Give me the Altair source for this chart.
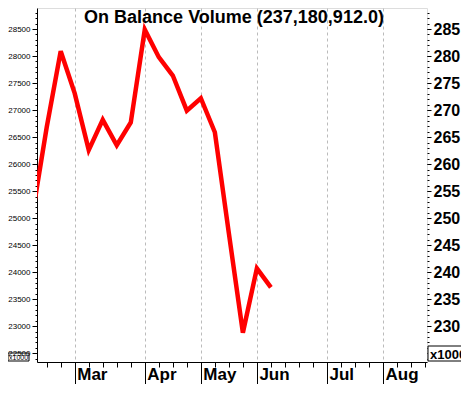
import altair as alt
import pandas as pd

# ---- data ----
week = list(range(-1, 17))
obv = [250.9, 266.8, 280.9, 273.1, 262.6, 268.2, 263.5, 267.7, 284.9,
       279.8, 276.4, 269.9, 272.2, 265.9, 247.2, 228.8, 240.7, 237.18]
months = ["Mar", "Apr", "May", "Jun", "Jul", "Aug"]
month_week = [2, 7, 11, 15, 20, 24]
week_ticks = list(range(0, 28))
left_major = list(range(225, 290, 5))
right_major = list(range(230, 290, 5))
minor_vals = list(range(224, 289))
title_text = "On Balance Volume (237,180,912.0)"
unit_label = "x1000"

df = pd.DataFrame({"week": week, "obv": obv})
one = pd.DataFrame({"t": [unit_label]})
ttl = pd.DataFrame({"t": [title_text]})

FONT = "Liberation Sans"
W, H = 390, 354
xs = alt.Scale(domain=[-0.692, 27.14], nice=False, zero=False)
ys = alt.Scale(domain=[223.37, 288.9], nice=False, zero=False)

month_expr = "{}[indexof({}, datum.value)]".format(
    "[" + ",".join("'%s'" % m for m in months) + "]",
    "[" + ",".join(str(w) for w in month_week) + "]")

base = alt.Chart(df)

l1 = base.mark_line(opacity=0).encode(
    x=alt.X("week:Q", scale=xs, axis=alt.Axis(
        orient="bottom", values=week_ticks, labels=False, tickSize=5,
        domain=True, domainColor="black", tickColor="black", grid=False, title=None)),
    y=alt.Y("obv:Q", scale=ys, axis=alt.Axis(
        orient="left", values=minor_vals, labels=False, tickSize=2,
        domain=True, domainColor="black", tickColor="black", grid=False, title=None)),
)

l2 = base.mark_line(opacity=0).encode(
    x=alt.X("week:Q", scale=xs, axis=alt.Axis(
        orient="bottom", values=month_week, labels=False, tickSize=22,
        domain=False, tickColor="black", grid=True, gridDash=[3, 3],
        gridColor="#bbbbbb", gridWidth=1, title=None)),
    y=alt.Y("obv:Q", scale=ys, axis=alt.Axis(
        orient="left", values=left_major, labelExpr="datum.value*100",
        tickSize=5, labelPadding=2, labelFontSize=8, labelFont=FONT,
        labelColor="black", domain=False, tickColor="black", grid=False,
        labelOverlap=False, labelFlush=False, title=None)),
)

l3 = base.mark_line(opacity=0).encode(
    x=alt.X("week:Q", scale=xs, axis=alt.Axis(
        orient="bottom", values=month_week, ticks=False, domain=False,
        labelExpr=month_expr, labelAlign="left", labelOffset=2,
        labelBaseline="top", labelPadding=4, labelFontSize=17,
        labelFontWeight="bold", labelFont=FONT, labelColor="black",
        labelOverlap=False, labelFlush=False, grid=False, title=None)),
    y=alt.Y("obv:Q", scale=ys, axis=alt.Axis(
        orient="right", values=minor_vals, labels=False, tickSize=2,
        domain=False, tickColor="black", grid=False, title=None)),
)

l4 = base.mark_line(color="#ff0000", strokeWidth=4.5, clip=True).encode(
    x=alt.X("week:Q", scale=xs, axis=None),
    y=alt.Y("obv:Q", scale=ys, axis=alt.Axis(
        orient="right", values=right_major, tickSize=4, labelPadding=2,
        labelFontSize=16, labelFontWeight="bold", labelFont=FONT,
        labelColor="black", domain=False, tickColor="black", grid=False,
        labelOverlap=False, labelFlush=False, title=None)),
)

title_mark = alt.Chart(ttl).mark_text(font=FONT, fontSize=18, fontWeight="bold",
                                      align="center", baseline="alphabetic",
                                      color="black").encode(
    x=alt.value(197), y=alt.value(15), text="t:N")

box_r = alt.Chart(one).mark_rect(fill="white", stroke="black", strokeWidth=1).encode(
    x=alt.value(391), x2=alt.value(440), y=alt.value(338), y2=alt.value(353))
txt_r = alt.Chart(one).mark_text(font=FONT, fontSize=13, fontWeight="bold",
                                 align="left", baseline="alphabetic", color="black").encode(
    x=alt.value(393), y=alt.value(350.5), text="t:N")
box_l = alt.Chart(one).mark_rect(fill=None, stroke="black", strokeWidth=1).encode(
    x=alt.value(-29), x2=alt.value(-8), y=alt.value(345), y2=alt.value(353))
txt_l = alt.Chart(one).mark_text(font=FONT, fontSize=7, align="left",
                                 baseline="alphabetic", color="black").encode(
    x=alt.value(-28), y=alt.value(352), text="t:N")

chart = alt.layer(l1, l2, l3, l4, title_mark, box_r, txt_r, box_l, txt_l).resolve_scale(
    x="shared", y="shared"
).resolve_axis(
    x="independent", y="independent"
).properties(
    width=W, height=H,
    autosize=alt.AutoSizeParams(type="none"),
    padding={"left": 29, "top": 0, "right": 34, "bottom": 22},
).configure_view(stroke=None).configure(background="white")

chart.save("out.html", embed_options={"renderer": "svg", "actions": False})
